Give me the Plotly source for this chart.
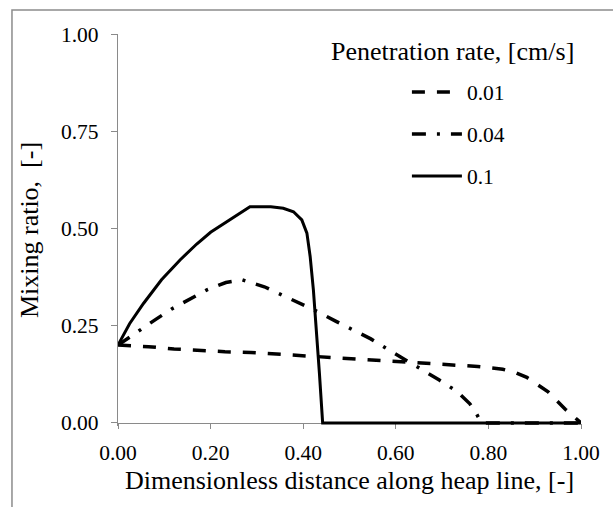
import plotly.graph_objects as go

# Penetration-rate series: dimensionless distance along heap line vs mixing ratio
x_001 = [0.0, 0.066, 0.121, 0.176, 0.231, 0.287, 0.341, 0.400, 0.451, 0.504,
         0.558, 0.615, 0.668, 0.722, 0.777, 0.831, 0.857, 0.883, 0.929, 0.966, 1.0]
y_001 = [0.200, 0.196, 0.190, 0.186, 0.183, 0.181, 0.177, 0.172, 0.168, 0.164,
         0.159, 0.156, 0.152, 0.149, 0.145, 0.138, 0.130, 0.117, 0.080, 0.035, 0.0]

x_004 = [0.0, 0.044, 0.080, 0.116, 0.156, 0.192, 0.233, 0.268, 0.316, 0.354,
         0.393, 0.433, 0.471, 0.508, 0.546, 0.583, 0.619, 0.657, 0.694, 0.731,
         0.760, 0.773, 0.785, 1.0]
y_004 = [0.200, 0.237, 0.265, 0.293, 0.318, 0.342, 0.361, 0.368, 0.350, 0.329,
         0.308, 0.285, 0.261, 0.239, 0.216, 0.189, 0.164, 0.138, 0.110, 0.082,
         0.049, 0.026, 0.0, 0.0]

x_010 = [0.0, 0.025, 0.055, 0.094, 0.134, 0.170, 0.200, 0.240, 0.285, 0.330,
         0.357, 0.379, 0.397, 0.408, 0.415, 0.422, 0.429, 0.435, 0.442, 1.0]
y_010 = [0.200, 0.255, 0.307, 0.368, 0.419, 0.460, 0.490, 0.522, 0.556, 0.556,
         0.552, 0.543, 0.522, 0.488, 0.428, 0.342, 0.239, 0.128, 0.0, 0.0]

series_names = ["0.01", "0.04", "0.1"]
x_ticks = [0.0, 0.2, 0.4, 0.6, 0.8, 1.0]
y_ticks = [0.0, 0.25, 0.5, 0.75, 1.0]

FONT = "'Liberation Serif', 'DejaVu Serif', serif"
AXIS_GREY = "#8a8a8a"

fig = go.Figure()
styles = [
    dict(dash="13px,12px", width=3.5),
    dict(dash="14px,11px,3px,11px", width=3.5),
    dict(dash="solid", width=3),
]
for name, xs, ys, st in zip(series_names, [x_001, x_004, x_010],
                            [y_001, y_004, y_010], styles):
    fig.add_trace(go.Scatter(
        x=xs, y=ys, mode="lines", name=name, legendgroup=name,
        line=dict(color="#000000", width=st["width"], dash=st["dash"]),
    ))

y_lo = -0.008
fig.update_layout(
    width=613, height=507,
    margin=dict(l=118, r=32, t=34, b=81),
    paper_bgcolor="white", plot_bgcolor="white",
    font=dict(family=FONT, color="#000000", size=21),
    showlegend=True,
    legend=dict(
        x=0.624, y=0.904, xanchor="left", yanchor="top",
        bgcolor="rgba(0,0,0,0)", borderwidth=0,
        font=dict(family=FONT, size=21.5, color="#000000"),
        itemwidth=50, tracegroupgap=11, traceorder="grouped",
    ),
    xaxis=dict(
        range=[0, 1], tickvals=x_ticks, tickformat=".2f",
        showgrid=False, zeroline=False,
        showline=True, linecolor=AXIS_GREY, linewidth=1.3,
        ticks="outside", ticklen=5, tickcolor=AXIS_GREY, tickwidth=1.3,
        ticklabelstandoff=5,
        anchor="free", position=-y_lo / (1 - y_lo), layer="below traces",
        tickfont=dict(family=FONT, size=21.5),
        title=dict(text="Dimensionless distance along heap line, [-]",
                   font=dict(family=FONT, size=26), standoff=6),
    ),
    yaxis=dict(
        range=[y_lo, 1], tickvals=y_ticks, tickformat=".2f",
        showgrid=False, zeroline=False,
        showline=True, linecolor=AXIS_GREY, linewidth=1.3,
        ticks="outside", ticklen=6, tickcolor=AXIS_GREY, tickwidth=1.3,
        ticklabelstandoff=8,
        tickfont=dict(family=FONT, size=21.5),
        title=dict(text="Mixing ratio,  [-]",
                   font=dict(family=FONT, size=26), standoff=14),
    ),
    annotations=[dict(
        text="Penetration rate, [cm/s]", xref="paper", yref="paper",
        x=0.7214, y=0.955, xanchor="center", yanchor="middle",
        showarrow=False, font=dict(family=FONT, size=26, color="#000000"),
    )],
    shapes=[dict(
        type="rect", xref="paper", yref="paper",
        x0=-0.229, x1=1.3, y0=-0.4, y1=1.061,
        line=dict(color="#8c8c8c", width=1.5), layer="below",
    )],
)

fig.write_html("out.html")
